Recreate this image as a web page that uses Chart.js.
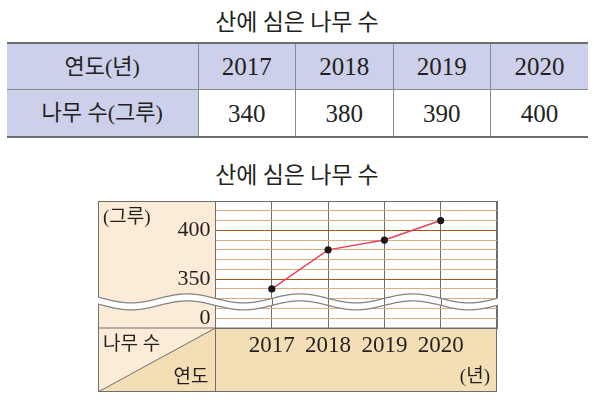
<!DOCTYPE html>
<html>
<head>
<meta charset="utf-8">
<script src="https://cdn.jsdelivr.net/npm/chart.js@4.4.1/dist/chart.umd.min.js"></script>
<style>
html, body { margin: 0; padding: 0; background: #ffffff; }
body { width: 594px; height: 403px; position: relative; overflow: hidden; color: #231f20;
       font-family: "Liberation Serif", "Noto Sans CJK KR", serif; }
.title { position: absolute; left: 0; width: 594px; text-align: center; line-height: 1;
         font-family: "Noto Sans CJK KR", sans-serif; font-size: 23px; }
#t1 { top: 9px; }
#t2 { top: 162px; }
#tbl { position: absolute; left: 7px; top: 42px; width: 581px; border-collapse: collapse; table-layout: fixed;
       border-top: 2.5px solid #6e6e6e; border-bottom: 2.5px solid #6e6e6e; }
#tbl td, #tbl th { padding: 0; text-align: center; font-weight: normal; border-left: 1px solid #8a8a8a; line-height: 1; }
#tbl td:first-child, #tbl th:first-child { border-left: none; }
#tbl .hd { background: #cdd0ea; }
#tbl tr.r1 > * { border-bottom: 1px solid #8a8a8a; height: 45px; }
#tbl tr.r2 > * { height: 46px; }
#tbl .ko { font-size: 22px; }
#tbl .num { font-size: 25px; }
#wrap { position: absolute; left: 0; top: 190px; width: 594px; height: 213px; }
</style>
</head>
<body>
<div class="title" id="t1"></div>
<table id="tbl">
  <colgroup><col style="width:191px"><col><col><col><col></colgroup>
  <tr class="r1" id="row1"></tr>
  <tr class="r2" id="row2"></tr>
</table>
<div class="title" id="t2"></div>
<div id="wrap"><canvas id="chart" width="594" height="213"></canvas></div>
<script>
// ---- data ----
const chartTitle = '산에 심은 나무 수';
const rowHeadYear = '연도(년)';
const rowHeadCount = '나무 수(그루)';
const years = [2017, 2018, 2019, 2020];
const tableValues = [340, 380, 390, 400];
// values as plotted on the line graph (the 2020 point is drawn on the 410 grid line)
const plottedValues = [340, 380, 390, 410];
const yTickValues = [400, 350, 310];
const yTickLabels = ['400', '350', '0'];
const yMajorValues = [350, 400];
const yUnit = '(그루)';
const xUnit = '(년)';
const cornerTop = '나무 수';
const cornerBottom = '연도';

// ---- titles and table ----
document.getElementById('t1').textContent = chartTitle;
document.getElementById('t2').textContent = chartTitle;
const row1 = document.getElementById('row1');
const row2 = document.getElementById('row2');
function cell(row, tag, text, cls) {
  const c = document.createElement(tag);
  c.textContent = text;
  c.className = cls;
  row.appendChild(c);
}
cell(row1, 'th', rowHeadYear, 'hd ko');
years.forEach(y => cell(row1, 'th', String(y), 'hd num'));
cell(row2, 'th', rowHeadCount, 'hd ko');
tableValues.forEach(v => cell(row2, 'td', String(v), 'num'));

// ---- chart ----
const GRAY = '#6e6e6e';
const LIGHT = '#fcecd7';
const DARK = '#f4deb6';
const MINOR = '#dcae7e';
const MAJOR = '#a35a14';
const KFONT = '19px "Liberation Serif", "Noto Sans CJK KR", serif';

const framePlugin = {
  id: 'frame',
  beforeDraw(chart) {
    const ctx = chart.ctx, a = chart.chartArea;
    const xs = chart.scales.x, ys = chart.scales.y;
    const L = ys.left, R = a.right, T = a.top, B = a.bottom, XB = xs.bottom, M = a.left;
    ctx.save();
    ctx.fillStyle = LIGHT;
    ctx.fillRect(L, T, M - L, XB - T);
    ctx.fillStyle = DARK;
    ctx.fillRect(M, B, R - M, XB - B);
    ctx.beginPath();
    ctx.moveTo(L, XB); ctx.lineTo(M, B); ctx.lineTo(M, XB); ctx.closePath();
    ctx.fill();
    ctx.strokeStyle = GRAY; ctx.lineWidth = 1;
    ctx.strokeRect(L + 0.5, T + 0.5, R - L - 1, XB - T - 1);
    ctx.beginPath();
    ctx.moveTo(M, T); ctx.lineTo(M, XB);
    ctx.moveTo(L, B); ctx.lineTo(R, B);
    ctx.moveTo(L, XB); ctx.lineTo(M, B);
    ctx.stroke();
    ctx.fillStyle = '#231f20';
    ctx.font = KFONT;
    ctx.textBaseline = 'middle';
    ctx.textAlign = 'left';
    ctx.fillText(yUnit, L + 5, T + 17);
    ctx.fillText(cornerTop, L + 5, B + 17);
    ctx.textAlign = 'right';
    ctx.fillText(cornerBottom, M - 7, XB - 14);
    ctx.fillText(xUnit, R - 7, XB - 15);
    ctx.restore();
  },
  beforeDatasetsDraw(chart) {
    const ctx = chart.ctx, a = chart.chartArea;
    const xs = chart.scales.x, ys = chart.scales.y;
    const L = ys.left, R = a.right;
    const x0 = xs.getPixelForValue(years[1]);
    const P = 2 * (xs.getPixelForValue(years[1]) - xs.getPixelForValue(years[0]));
    const c1 = ys.getPixelForValue(330) - 0.3;
    const c2 = c1 + 7;
    const A = 4.5;
    const f = (x, c) => c + A * Math.sin(2 * Math.PI * (x - x0) / P);
    const bandPath = () => {
      ctx.beginPath();
      for (let x = L - 1; x <= R + 1; x += 1) { const y = f(x, c1); x === L - 1 ? ctx.moveTo(x, y) : ctx.lineTo(x, y); }
      for (let x = R + 1; x >= L - 1; x -= 1) ctx.lineTo(x, f(x, c2));
      ctx.closePath();
    };
    ctx.save();
    bandPath();
    ctx.fillStyle = '#ffffff';
    ctx.fill();
    // year grid lines continue through the band
    ctx.save();
    bandPath();
    ctx.clip();
    ctx.strokeStyle = GRAY; ctx.lineWidth = 1;
    ctx.beginPath();
    years.forEach(y => {
      const px = Math.round(xs.getPixelForValue(y)) + 0.5;
      ctx.moveTo(px, c1 - A - 3); ctx.lineTo(px, c2 + A + 3);
    });
    ctx.stroke();
    ctx.restore();
    ctx.strokeStyle = '#858585'; ctx.lineWidth = 1.3;
    [c1, c2].forEach(c => {
      ctx.beginPath();
      for (let x = L; x <= R; x += 1) { const y = f(x, c); x === L ? ctx.moveTo(x, y) : ctx.lineTo(x, y); }
      ctx.stroke();
    });
    ctx.restore();
  }
};

new Chart(document.getElementById('chart'), {
  type: 'line',
  data: {
    datasets: [{
      data: years.map((y, i) => ({ x: y, y: plottedValues[i] })),
      borderColor: '#e8425a',
      borderWidth: 1.5,
      pointRadius: 3.6,
      pointBackgroundColor: '#1a1a1a',
      pointBorderColor: '#1a1a1a',
      pointBorderWidth: 0,
      tension: 0,
      clip: false
    }]
  },
  options: {
    responsive: false,
    animation: false,
    devicePixelRatio: 1,
    layout: { padding: { left: 98, right: 97, top: 11, bottom: 11 }, autoPadding: false },
    plugins: { legend: { display: false }, tooltip: { enabled: false }, title: { display: false } },
    scales: {
      x: {
        type: 'linear', min: years[0] - 1, max: years[years.length - 1] + 1,
        ticks: {
          stepSize: 1, autoSkip: false, maxRotation: 0, padding: 4,
          callback: v => years.includes(Math.round(v)) ? String(Math.round(v)) : '',
          font: { family: 'Liberation Serif', size: 23 }, color: '#231f20'
        },
        grid: { drawTicks: false, lineWidth: 1, color: GRAY },
        border: { color: GRAY },
        afterFit: s => { s.height = 64; s.paddingLeft = 0; s.paddingRight = 0; }
      },
      y: {
        type: 'linear', min: 300, max: 430,
        ticks: {
          stepSize: 10, autoSkip: false, padding: 5,
          callback: v => { const i = yTickValues.indexOf(Math.round(v)); return i >= 0 ? yTickLabels[i] : ''; },
          font: { family: 'Liberation Serif', size: 22 }, color: '#231f20'
        },
        grid: {
          drawTicks: false, lineWidth: 1,
          color: c => {
            const v = c.tick ? Math.round(c.tick.value) : 0;
            if (v === 300 || v === 430) return GRAY;
            return yMajorValues.includes(v) ? MAJOR : MINOR;
          }
        },
        border: { color: GRAY },
        afterFit: s => { s.width = 117.5; s.paddingTop = 0; s.paddingBottom = 0; }
      }
    }
  },
  plugins: [framePlugin]
});
</script>
</body>
</html>
